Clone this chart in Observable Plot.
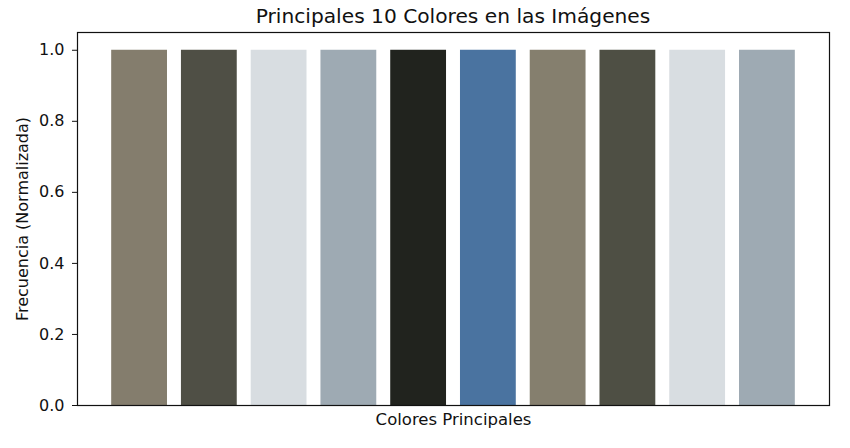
<!DOCTYPE html>
<html>
<head>
<meta charset="utf-8">
<script src="https://cdn.jsdelivr.net/npm/d3@7"></script>
<script src="https://cdn.jsdelivr.net/npm/@observablehq/plot@0.6"></script>
<style>
  html, body { margin: 0; padding: 0; background: white; }
  #title { height: 28px; width: 752px; padding-left: 77px; text-align: center; white-space: nowrap;
           font-family: "DejaVu Sans", sans-serif; font-size: 20.2px; line-height: 32px; color: #111; }
  #chart svg { display: block; }
</style>
</head>
<body>
<div id="title">Principales 10 Colores en las Imágenes</div>
<div id="chart"></div>
<script>
const keys = ["c1", "c2", "c3", "c4", "c5", "c6", "c7", "c8", "c9", "c10"];
const colors = ["#847d6d", "#4f4f45", "#d8dde1", "#9eaab3", "#21231e", "#4a73a0", "#857f6e", "#4e4f44", "#d8dde1", "#9eaab3"];
const freqs = [1.0, 1.0, 1.0, 1.0, 1.0, 1.0, 1.0, 1.0, 1.0, 1.0];
const yTicks = [0, 0.2, 0.4, 0.6, 0.8, 1.0];

const data = keys.map((k, i) => ({key: k, color: colors[i], freq: freqs[i]}));

const chart = Plot.plot({
  width: 850,
  height: 420,
  marginLeft: 77,
  marginRight: 21,
  marginTop: 4,
  marginBottom: 43,
  style: {fontFamily: "DejaVu Sans, sans-serif", fontSize: "16px", color: "#111", background: "white"},
  x: {domain: keys, paddingInner: 0.2, paddingOuter: 0.49, round: false, axis: null},
  y: {domain: [0, 1.05]},
  marks: [
    Plot.barY(data, {x: "key", y: "freq", fill: "color"}),
    Plot.axisY({ticks: yTicks, tickFormat: d3.format(".1f"), tickSize: 5, tickPadding: 8, fontSize: 16,
                label: "Frecuencia (Normalizada)", labelAnchor: "center", labelArrow: "none", labelOffset: 61}),
    Plot.axisX({ticks: [], tickSize: 0, fontSize: 16.5, label: "Colores Principales", labelAnchor: "center", labelArrow: "none", labelOffset: 19}),
    Plot.frame({stroke: "#111", strokeWidth: 1.2})
  ]
});
document.getElementById("chart").appendChild(chart);
</script>
</body>
</html>
